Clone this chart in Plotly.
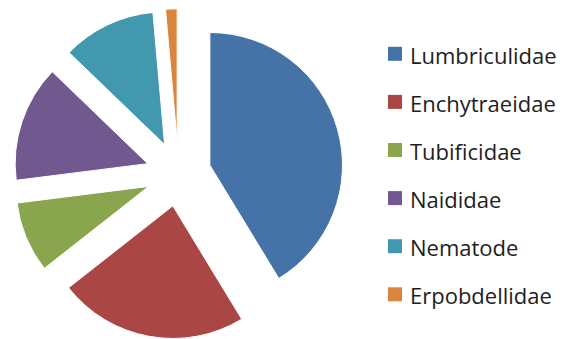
import plotly.graph_objects as go

# Share of each taxon in the sample (%)
labels = ["Lumbriculidae", "Enchytraeidae", "Tubificidae", "Naididae", "Nematode", "Erpobdellidae"]
values = [41.3, 23.1, 8.6, 14.2, 11.4, 1.4]
colors = ["#4572A7", "#AA4643", "#89A54E", "#71588F", "#4198AF", "#DB843D"]

W, H = 572, 339

fig = go.Figure(
    go.Pie(
        labels=labels,
        values=values,
        sort=False,
        direction="clockwise",
        rotation=0,
        pull=[0.245] * len(values),
        marker=dict(colors=colors, line=dict(color="white", width=1)),
        textinfo="none",
        hoverinfo="label+percent",
        showlegend=False,
        domain=dict(x=[13 / W, 344.2 / W], y=[0, 1 - 8.8 / H]),
    )
)

# Legend: colour square plus label, one row per taxon
row0, step = 53.8, 48.1
for i, (lab, col) in enumerate(zip(labels, colors)):
    yc = row0 + i * step
    fig.add_shape(
        type="rect", xref="paper", yref="paper",
        x0=388 / W, x1=402 / W, y0=1 - (yc + 7) / H, y1=1 - (yc - 7) / H,
        fillcolor=col, line=dict(width=0),
    )
    fig.add_annotation(
        xref="paper", yref="paper", x=408 / W, y=1 - (yc + 1) / H,
        xanchor="left", yanchor="middle", showarrow=False,
        text=lab, font=dict(family="Open Sans", size=22, color="#1e1e1e"),
    )

fig.update_layout(
    width=W, height=H,
    margin=dict(l=0, r=0, t=0, b=0),
    paper_bgcolor="white", plot_bgcolor="white",
)

fig.write_html("out.html")
